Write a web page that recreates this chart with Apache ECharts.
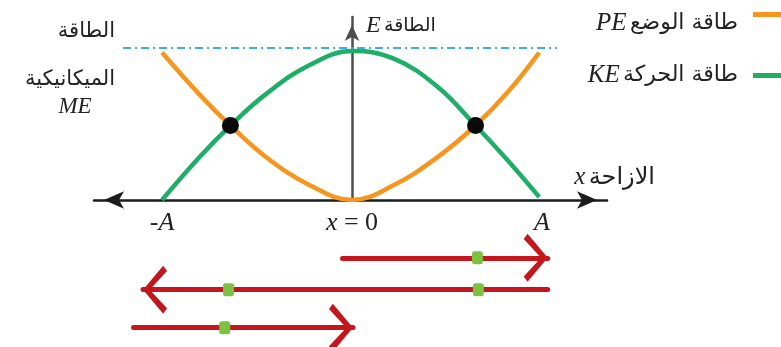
<!DOCTYPE html>
<html>
<head>
<meta charset="utf-8">
<script src="https://cdn.jsdelivr.net/npm/echarts@6/dist/echarts.min.js"></script>
<style>
html, body { margin: 0; padding: 0; background: #fff; }
#main { width: 781px; height: 347px; }
</style>
</head>
<body>
<div id="main"></div>
<script>
// 位移（单位：振幅 A）
const xs = [-1, -0.8, -0.64, -0.45, -0.22, 0, 0.22, 0.45, 0.65, 0.82, 0.985];
// 势能 PE 与动能 KE（单位：机械能 ME）
const peValues = [0.97, 0.69, 0.49, 0.28, 0.095, 0, 0.098, 0.282, 0.49, 0.71, 0.97];
const keValues = [0, 0.286, 0.49, 0.7, 0.89, 0.98, 0.93, 0.745, 0.49, 0.26, 0.02];

// 机械能水平线
const meLevel = 1.0;
const meRange = [-1.205, 1.079];

// PE = KE 的交点
const crossX = [-0.64, 0.65];
const crossE = 0.49;

// 坐标轴刻度
const tickValues = [-1, 0, 1];
const tickLabels = ['-A', 'x = 0', 'A'];

// 下方运动箭头（起点、终点、所在行）
const arrowStarts = [-0.05, 1.03, -1.15];
const arrowEnds = [1.03, -1.1, 0.005];
const arrowRows = [-0.38, -0.59, -0.84];
// 箭头上的绿色小点
const dotX = [0.66, -0.65, 0.665, -0.67];
const dotRow = [-0.38, -0.59, -0.59, -0.84];

// 文字
const peLabel = 'طاقة الوضع';
const keLabel = 'طاقة الحركة';
const energyLabel = 'الطاقة';
const mechLabel = 'الميكانيكية';
const dispLabel = 'الازاحة';

const ORANGE = '#f7961f';
const GREEN = '#1eae68';
const RED = '#c3161d';
const DOT = '#7cc242';
const TEXT = '#222';
const AR_FONT = 'DejaVu Sans';
const SERIF = 'Liberation Serif';

const xMin = -1.358, xMax = 1.342;
const yTop = 1.204, yBottom = -0.967;

// 开口箭头（包围盒上方留空，使尖端位于中心）
const CHEVRON = 'path://M18,0 M18,25 L36,46 L32,50 L18,32 L4,50 L0,46 Z';

function italicRich(label) {
    return label.split(/([A-Za-z]+)/).filter(s => s !== '')
        .map(s => /[A-Za-z]/.test(s) ? `{i|${s}}` : `{n|${s}}`).join('');
}

const chart = echarts.init(document.getElementById('main'));

const legendRich = {
    s: { fontSize: 1, lineHeight: 18 },
    b: { fontFamily: SERIF, fontStyle: 'italic', fontSize: 25, color: TEXT, lineHeight: 30 },
    a: { fontFamily: AR_FONT, fontSize: 22, color: TEXT, lineHeight: 30 },
    g: { width: 10 }
};

const option = {
    backgroundColor: '#fff',
    animation: false,
    grid: [
        { left: 94, right: 174, top: 17, bottom: 147 },
        { left: 94, right: 174, top: 200, bottom: 0 }
    ],
    legend: [
        {
            data: ['PE'], right: -6, top: -1, padding: 0, orient: 'vertical', align: 'right',
            icon: 'rect', itemWidth: 34, itemHeight: 5, selectedMode: false,
            formatter: () => `{s| }\n{b|PE} {a|${peLabel}}{g|}`,
            textStyle: { rich: legendRich }
        },
        {
            data: ['KE'], right: -6, top: 63, padding: 0, orient: 'vertical', align: 'right',
            icon: 'rect', itemWidth: 34, itemHeight: 5, selectedMode: false,
            formatter: () => `{b|KE} {a|${keLabel}}{g|}`,
            textStyle: { rich: legendRich }
        }
    ],
    xAxis: [
        {
            type: 'value', gridIndex: 0, min: xMin, max: xMax,
            name: `{i|x} {a|${dispLabel}}`, nameLocation: 'end', nameGap: 48,
            nameTextStyle: {
                align: 'right', verticalAlign: 'bottom', padding: [0, 0, 10, 0],
                rich: {
                    i: { fontFamily: SERIF, fontStyle: 'italic', fontSize: 25, color: TEXT },
                    a: { fontFamily: AR_FONT, fontSize: 24, color: TEXT }
                }
            },
            axisLine: {
                show: true, onZero: true,
                symbol: ['arrow', 'arrow'], symbolSize: [13, 20], symbolOffset: [10, -10],
                lineStyle: { color: '#1c1c1c', width: 2.5 }
            },
            axisTick: { show: false },
            splitLine: { show: false },
            axisLabel: {
                customValues: tickValues,
                margin: 10,
                formatter: v => italicRich(tickLabels[tickValues.indexOf(v)] || ''),
                rich: {
                    i: { fontFamily: SERIF, fontStyle: 'italic', fontSize: 26, color: TEXT },
                    n: { fontFamily: SERIF, fontSize: 26, color: TEXT }
                }
            }
        },
        { type: 'value', gridIndex: 1, min: xMin, max: xMax, show: false }
    ],
    yAxis: [
        {
            type: 'value', gridIndex: 0, min: 0, max: yTop,
            name: `{i|E} {a|${energyLabel}}`, nameLocation: 'end', nameGap: -9,
            nameTextStyle: {
                align: 'left', verticalAlign: 'middle', padding: [0, 0, 0, 14],
                rich: {
                    i: { fontFamily: SERIF, fontStyle: 'italic', fontSize: 24, color: TEXT },
                    a: { fontFamily: AR_FONT, fontSize: 19, color: TEXT }
                }
            },
            axisLine: {
                show: true, onZero: true,
                symbol: ['none', 'arrow'], symbolSize: [11, 16], symbolOffset: [0, -8],
                lineStyle: { color: '#4d4d4d', width: 2.5 }
            },
            axisTick: { show: false },
            axisLabel: { show: false },
            splitLine: { show: false }
        },
        { type: 'value', gridIndex: 1, min: yBottom, max: 0, show: false }
    ],
    graphic: [
        {
            type: 'text', x: 115, y: 32,
            style: { text: energyLabel, align: 'right', verticalAlign: 'middle', font: `21px "${AR_FONT}"`, fill: TEXT }
        },
        {
            type: 'text', x: 115, y: 80,
            style: { text: mechLabel, align: 'right', verticalAlign: 'middle', font: `21px "${AR_FONT}"`, fill: TEXT }
        },
        {
            type: 'text', x: 75, y: 107,
            style: { text: 'ME', align: 'center', verticalAlign: 'middle', font: `italic 23px "${SERIF}"`, fill: TEXT }
        }
    ],
    series: [
        {
            name: 'ME', type: 'line', xAxisIndex: 0, yAxisIndex: 0,
            data: meRange.map(x => [x, meLevel]),
            symbol: 'none', z: 1,
            lineStyle: { color: '#3aaede', width: 1.8, type: [8, 4, 2, 4] }
        },
        {
            name: 'KE', type: 'line', xAxisIndex: 0, yAxisIndex: 0,
            data: xs.map((x, i) => [x, keValues[i]]),
            smooth: 0.4, symbol: 'none', z: 2,
            itemStyle: { color: GREEN },
            lineStyle: { color: GREEN, width: 4.5 }
        },
        {
            name: 'PE', type: 'line', xAxisIndex: 0, yAxisIndex: 0,
            data: xs.map((x, i) => [x, peValues[i]]),
            smooth: 0.4, symbol: 'none', z: 3,
            itemStyle: { color: ORANGE },
            lineStyle: { color: ORANGE, width: 4.5 }
        },
        {
            type: 'scatter', xAxisIndex: 0, yAxisIndex: 0,
            data: crossX.map(x => [x, crossE]),
            symbolSize: 17, z: 5,
            itemStyle: { color: '#0a0a0a', opacity: 1 }
        },
        {
            type: 'lines', coordinateSystem: 'cartesian2d', xAxisIndex: 1, yAxisIndex: 1,
            data: arrowStarts.map((s, i) => ({ coords: [[s, arrowRows[i]], [arrowEnds[i], arrowRows[i]]] })),
            symbol: ['none', CHEVRON], symbolSize: [34, 48], z: 2,
            lineStyle: { color: RED, width: 5, opacity: 1, curveness: 0, cap: 'round' }
        },
        {
            type: 'scatter', xAxisIndex: 1, yAxisIndex: 1,
            data: dotX.map((x, i) => [x, dotRow[i]]),
            symbol: 'roundRect', symbolSize: [11, 13], z: 4,
            itemStyle: { color: DOT, opacity: 1 }
        }
    ]
};

chart.setOption(option);
</script>
</body>
</html>
